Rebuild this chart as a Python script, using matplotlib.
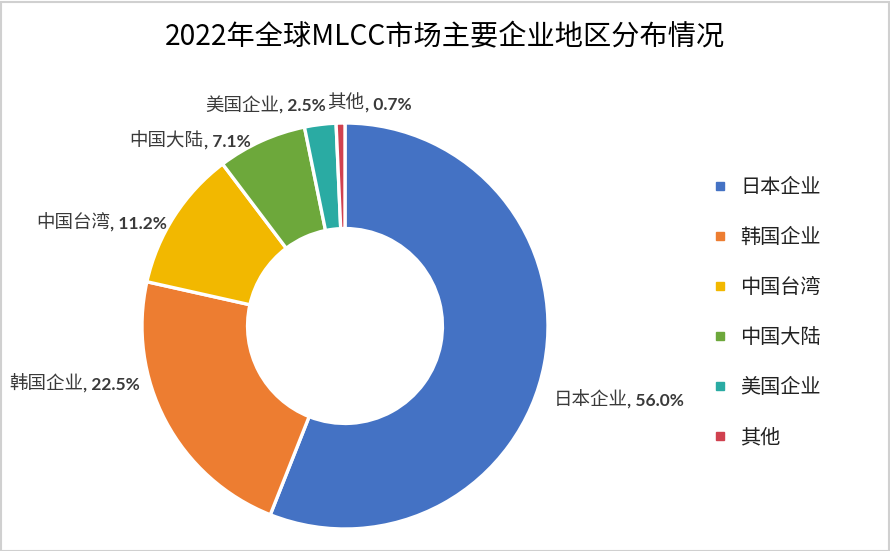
import matplotlib
matplotlib.use("Agg")
import matplotlib.pyplot as plt
import numpy as np
from matplotlib.offsetbox import TextArea, HPacker, AnnotationBbox
from matplotlib.lines import Line2D
from matplotlib.patches import Rectangle

categories = ["日本企业", "韩国企业", "中国台湾", "中国大陆", "美国企业", "其他"]
shares = [56.0, 22.5, 11.2, 7.1, 2.5, 0.7]
colors = ["#4472C4", "#ED7D31", "#F2B800", "#6DA83B", "#2AABA3", "#D0414F"]
title = "2022年全球MLCC市场主要企业地区分布情况"

# label offsets (pixels) from the outer edge point at each wedge's mid-angle
label_offsets = [(9, -36), (-26, 36), (-7, -7), (-11, -1), (6, 19), (-13, 19)]
label_align = [0, 1, 1, 1, 1, 0]

W, H = 890, 551
fig = plt.figure(figsize=(W / 100, H / 100), dpi=100)
fig.patch.set_facecolor("white")
fig.add_artist(Rectangle((0.5 / W, 0.5 / H), 1 - 2 / W, 1 - 2 / H, transform=fig.transFigure,
                         fill=False, edgecolor="#D0D0D0", linewidth=1.5))

cx, cy, R = 345, 326, 203
ax = fig.add_axes([(cx - R) / W, (H - cy - R) / H, 2 * R / W, 2 * R / H])
wedges, _ = ax.pie(shares, colors=colors, startangle=90, counterclock=False, radius=1.0,
                   wedgeprops=dict(width=0.52, edgecolor="white", linewidth=2.4))
ax.set_xlim(-1, 1)
ax.set_ylim(-1, 1)
ax.set_aspect("equal")
ax.axis("off")

cjk = ["Noto Sans CJK SC", "DejaVu Sans"]
for w, cat, val, (dx, dy), al in zip(wedges, categories, shares, label_offsets, label_align):
    ang = np.deg2rad((w.theta1 + w.theta2) / 2)
    xy = (np.cos(ang), np.sin(ang))
    t1 = TextArea(cat, textprops=dict(family=cjk, fontsize=13.3, color="#3A3A3A"))
    t2 = TextArea(f", {val:.1f}%", textprops=dict(family=["Lato", "DejaVu Sans"], fontsize=12.5,
                                                   fontweight="bold", color="#3A3A3A"))
    pack = HPacker(children=[t1, t2], align="baseline", pad=0, sep=0)
    ab = AnnotationBbox(pack, xy, xybox=(dx * 0.72, dy * 0.72), xycoords="data",
                        boxcoords="offset points", box_alignment=(al, 0.5), frameon=False, pad=0,
                        annotation_clip=False)
    ax.add_artist(ab)

fig.text(0.5, 1 - 37 / H, title, ha="center", va="center", fontsize=20.3,
         family=["Noto Sans CJK SC", "DejaVu Sans"], color="black")

handles = [Line2D([], [], linestyle="none", marker="s", markersize=5.5, color=c) for c in colors]
leg = fig.legend(handles, categories, loc="upper left", bbox_to_anchor=(712 / W, 1 - 177 / H),
                 frameon=False, prop=dict(family=cjk, size=14.5), labelspacing=1.44,
                 handlelength=0.8, handletextpad=0.6, borderpad=0, borderaxespad=0)
for t in leg.get_texts():
    t.set_color("#222222")

fig.savefig("out.png", dpi=100, facecolor="white")
